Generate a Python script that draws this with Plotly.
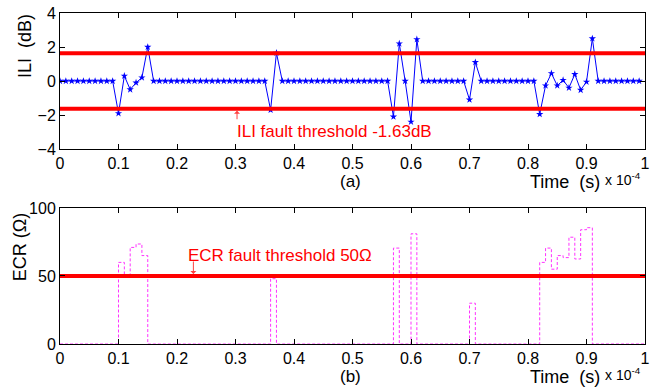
import plotly.graph_objects as go

# ---------------- data ----------------
# ILI samples (dB), one per 0.01 x 1e-4 s, from t = 0 to 0.99
ili_db = [
    0, 0, 0, 0, 0, 0, 0, 0, 0, 0,
    -1.9, 0.3, -0.5, -0.1, 0.2, 2.0, 0, 0, 0, 0,
    0, 0, 0, 0, 0, 0, 0, 0, 0, 0,
    0, 0, 0, 0, 0, 0, -1.7, 1.65, 0, 0,
    0, 0, 0, 0, 0, 0, 0, 0, 0, 0,
    0, 0, 0, 0, 0, 0, 0, -2.1, 2.2, 0,
    -2.4, 2.45, 0, 0, 0, 0, 0, 0, 0, 0,
    -1.1, 1.1, 0, 0, 0, 0, 0, 0, 0, 0,
    0, 0, -1.95, -0.27, 0.45, -0.27, 0.05, -0.4, 0.4, -0.53,
    -0.05, 2.5, 0, 0, 0, 0, 0, 0, 0, 0,
]
# ECR stair values (ohm), one per 0.01 x 1e-4 s, from t = 0 to 1.00
ecr_ohm = [
    0, 0, 0, 0, 0, 0, 0, 0, 0, 0,
    60, 50, 71, 73.5, 65, 0, 0, 0, 0, 0,
    0, 0, 0, 0, 0, 0, 0, 0, 0, 0,
    0, 0, 0, 0, 0, 0, 48, 0, 0, 0,
    0, 0, 0, 0, 0, 0, 0, 0, 0, 0,
    0, 0, 0, 0, 0, 0, 0, 70.5, 0, 0,
    81, 0, 0, 0, 0, 0, 0, 0, 0, 0,
    30, 0, 0, 0, 0, 0, 0, 0, 0, 0,
    0, 0, 60, 70.5, 55, 65, 63.5, 78.5, 62.5, 84,
    85.5, 0, 0, 0, 0, 0, 0, 0, 0, 0,
    0,
]
t_ili = [round(0.01 * i, 2) for i in range(len(ili_db))]
t_ecr = [round(0.01 * i, 2) for i in range(len(ecr_ohm))]

ili_threshold = 1.63
ecr_threshold = 50
x_span = [0, 1]

x_ticks = [0, 0.1, 0.2, 0.3, 0.4, 0.5, 0.6, 0.7, 0.8, 0.9, 1]
x_ticklabels = ["0", "0.1", "0.2", "0.3", "0.4", "0.5", "0.6", "0.7", "0.8", "0.9", "1"]
ili_ticks = [-4, -2, 0, 2, 4]
ecr_ticks = [0, 50, 100]

FONT = "Arial, 'Liberation Sans', sans-serif"

fig = go.Figure()

# ILI curve
fig.add_trace(go.Scatter(
    x=t_ili, y=ili_db, mode="lines+markers",
    line=dict(color="#0000ff", width=1),
    marker=dict(symbol="star", size=5.5, color="#0000ff"),
    xaxis="x", yaxis="y", showlegend=False,
))
# ILI thresholds
for thr in (ili_threshold, -ili_threshold):
    fig.add_trace(go.Scatter(
        x=x_span, y=[thr, thr], mode="lines",
        line=dict(color="#ff0000", width=4),
        xaxis="x", yaxis="y", showlegend=False,
    ))

# ECR stairs
fig.add_trace(go.Scatter(
    x=t_ecr, y=ecr_ohm, mode="lines", line_shape="hv",
    line=dict(color="#ff33ff", width=1, dash="3px,2px"),
    xaxis="x2", yaxis="y2", showlegend=False,
))
fig.add_trace(go.Scatter(
    x=x_span, y=[ecr_threshold, ecr_threshold], mode="lines",
    line=dict(color="#ff0000", width=4),
    xaxis="x2", yaxis="y2", showlegend=False,
))

axis_common = dict(
    showline=True, linecolor="black", linewidth=1, mirror="ticks",
    ticks="inside", ticklen=5, tickcolor="black", tickwidth=1,
    showgrid=False, zeroline=False, automargin=False,
    tickfont=dict(family=FONT, size=16, color="black"),
)

fig.update_layout(
    template="none",
    width=659, height=390,
    margin=dict(l=60, r=14, t=13, b=46),
    paper_bgcolor="white", plot_bgcolor="white",
    font=dict(family=FONT, color="black"),
    xaxis=dict(domain=[0, 1], anchor="y", range=[0, 1],
               tickvals=x_ticks, ticktext=x_ticklabels, **axis_common),
    yaxis=dict(domain=[0.589, 1], anchor="x", range=[-4, 4],
               tickvals=ili_ticks, **axis_common),
    xaxis2=dict(domain=[0, 1], anchor="y2", range=[0, 1],
                tickvals=x_ticks, ticktext=x_ticklabels, **axis_common),
    yaxis2=dict(domain=[0, 0.411], anchor="x2", range=[0, 100],
                tickvals=ecr_ticks, **axis_common),
)

def lab(text, x, y, size=18, xanchor="center", angle=0, color="black", xref="paper", yref="paper"):
    return dict(text=text, xref=xref, yref=yref, x=x, y=y, xanchor=xanchor, yanchor="middle",
                textangle=angle, showarrow=False, font=dict(size=size, family=FONT, color=color))

ann = []
# axis titles
ann.append(lab("ILI\u00a0\u00a0(dB)", -0.06, 0.90, angle=-90))
ann.append(lab("ECR\u00a0(\u03a9)", -0.068, 0.293, angle=-90))
# panel labels
ann.append(lab("(a)", 0.497, 0.492, size=17))
ann.append(lab("(b)", 0.497, -0.097, size=17))
# time labels
for yy in (0.489, -0.1):
    ann.append(lab("Time\u00a0\u00a0(s)", 0.9265, yy, xanchor="right"))
    ann.append(lab("x 10<sup>-4</sup>", 0.928, yy + 0.01, size=14, xanchor="left"))
# threshold annotations
ann.append(lab("ILI fault threshold -1.63dB", 0.299, -2.94, size=17, xanchor="left",
               color="#ff0000", xref="x", yref="y"))
ann.append(dict(text="", xref="x", yref="y", x=0.3026, y=-ili_threshold, ax=0, ay=12,
                showarrow=True, arrowhead=1, arrowsize=1, arrowwidth=1, arrowcolor="#ff4040",
                standoff=2))
ann.append(lab("ECR fault threshold 50\u03a9", 0.2154, 64.8, size=17, xanchor="left",
               color="#ff0000", xref="x2", yref="y2"))
ann.append(dict(text="", xref="x2", yref="y2", x=0.228, y=ecr_threshold, ax=0, ay=-16,
                showarrow=True, arrowhead=1, arrowsize=1, arrowwidth=1, arrowcolor="#ff4040",
                standoff=2))
fig.update_layout(annotations=ann)

fig.write_html("out.html")
